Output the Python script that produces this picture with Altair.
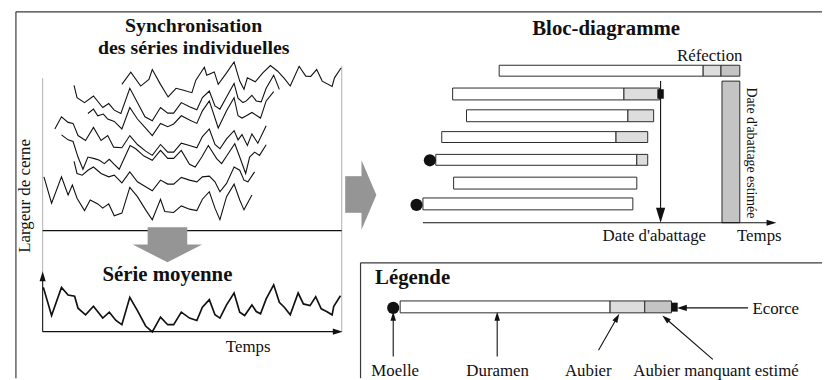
import math
import altair as alt
import pandas as pd

FONT = "Liberation Serif"

# ---------------- data (figure pixel units) ----------------
# individual ring-width series, synchronised
serie_a_x = [116, 125, 135, 143.3, 146.7, 155, 162.7, 170.7, 178.3, 186.7, 190.7, 199.3, 201.7, 209.3, 213.3, 221.7, 229.3, 235, 239.3, 242.7, 250.7, 258.3, 266, 273.3, 280, 286, 295, 301.7, 306.7, 312.7, 318.3, 328.3, 330.7, 337.3]
serie_a_y = [83.3, 71, 85, 78.3, 68.3, 83.3, 96, 87.3, 89.3, 91.7, 79, 66, 74, 70.7, 83.3, 71.7, 60.7, 80, 88.3, 76.7, 80.7, 71.7, 64.3, 70, 77.3, 85, 65, 75, 75.3, 68.3, 80, 85.3, 76.7, 66.7]

serie_b_x = [67.7, 70.7, 78.3, 87.3, 96.7, 102.7, 108.3, 115, 124, 131.7, 139.3, 146.7, 155, 162.3, 168.3, 176, 184.3, 191.7, 197.3, 204.3, 210, 215, 221.7, 229.3, 233.3, 238.3, 241.7, 247.3, 251.7, 256.7, 261.7, 269.3, 275]
serie_b_y = [84.3, 96.7, 101.7, 95, 106.7, 102.7, 109.3, 112.7, 87.3, 101.7, 116, 120, 106.7, 112.3, 112.3, 101.7, 106, 109, 96.7, 90, 105, 108.3, 96, 82.3, 97.3, 101.7, 100, 94.3, 100, 101, 87.3, 74, 88.3]

serie_c_x = [81.7, 87.3, 91.7, 97.3, 101.7, 108.3, 116, 124, 131.7, 139.3, 146.7, 155, 162.3, 168.3, 176, 184.3, 191.7, 197.3, 204.3, 213.3, 221.7, 229.3, 233.3, 237.3, 241.7, 247.3, 256, 261.7, 269.3]
serie_c_y = [112.7, 108.3, 115, 113.3, 118.3, 120.7, 128.3, 106.7, 118.3, 126.7, 135, 122.7, 126, 123.3, 115, 119.3, 122.7, 110, 100, 127.3, 110, 96.7, 115, 117.3, 115, 111.7, 117.3, 100, 90.7]

serie_d_x = [48.3, 55, 61.7, 66.7, 71.7, 79.3, 87.3, 95, 101.7, 107.7, 116, 124, 131.7, 140, 146.7, 155, 162.3, 168.3, 176, 184.3, 191.7, 197.3, 204.3, 210, 215, 221.7, 229.3, 233.3, 237.3, 242.7, 247.3, 253.3, 261.7]
serie_d_y = [128.3, 116, 121.7, 122.7, 135, 140, 126.7, 140, 135, 146.7, 147.3, 135, 144, 150.7, 155, 144, 151.7, 151.7, 142.7, 145, 147.3, 136, 128.3, 144, 148.3, 138.3, 130, 139.3, 134, 145, 133.3, 142.7, 125]

serie_e_x = [55, 61.7, 66.7, 71.7, 76.7, 81.7, 88.3, 93.3, 98.3, 103.3, 108.3, 113.3, 124.3, 130, 138.3, 146.7, 155, 162.3, 168.3, 176, 184.3, 190, 196.7, 203.3, 211.7, 216.7, 223.3, 230, 235, 241, 245, 250, 255, 261.7]
serie_e_y = [134.3, 139.3, 141, 156.7, 169, 156.7, 158.3, 160, 163.3, 159, 164, 169, 145, 148.3, 155.7, 160, 150, 158, 158, 150, 164, 166.7, 156.7, 145, 158.3, 163.3, 153.3, 143.3, 156.7, 173.3, 156.7, 151.7, 155, 144.3]

serie_f_x = [67.7, 70.7, 76, 81.7, 87.3, 95, 102.7, 108.3, 116, 124, 131.7, 140, 146.7, 155, 162.3, 168.3, 176, 184.3, 191.7, 197.3, 204.3, 210, 215, 221.7, 229.3, 235, 239.3, 243.3, 250]
serie_f_y = [161, 173.3, 175, 170, 166.7, 173.3, 176.7, 175, 182.7, 171.7, 181.7, 186.7, 190.7, 180, 184, 184, 177.3, 180, 181.7, 176.7, 176, 181.7, 191.7, 183.3, 166.7, 170, 180, 181.7, 171.7]

serie_g_x = [37.3, 45, 55, 61.7, 66, 70.7, 78.3, 84, 91.7, 96.7, 102.7, 108.3, 116, 124, 131.7, 140, 146.7, 155, 159.3, 168.3, 176, 184.3, 191.7, 197.3, 204.3, 210, 215, 221.7, 229.3, 235, 239.3, 247.3]
serie_g_y = [176.7, 203.3, 176.7, 195, 185, 198.3, 210.7, 200, 204, 208.3, 204, 216, 213.3, 187.3, 196.7, 210, 220, 199.3, 211.7, 212.7, 206, 209.3, 210.7, 199.3, 191.7, 208.3, 220, 196.7, 184, 200, 210, 195]

# mean series
moyenne_x = [36.7, 45, 55, 61.7, 68.3, 71.7, 79.3, 87.3, 96.7, 103.3, 110, 116, 124, 131.7, 140, 146.7, 155, 162.3, 168.3, 176, 184.3, 191.7, 197.3, 204.3, 210, 215, 221.7, 229.3, 235, 240, 247.3, 251.7, 256, 261.7, 269.3, 275, 280, 286, 294, 299.3, 306, 311.7, 317.3, 322.7, 328.3, 330, 336.7]
moyenne_y = [288.3, 316.7, 288.3, 296, 297.3, 309.3, 316, 307.3, 319.3, 313.3, 321.7, 326, 298.3, 311.7, 327.3, 333.3, 318.3, 326, 326, 313.3, 319.3, 321.7, 308.3, 300.7, 316, 319.3, 306, 294, 313.3, 316.7, 306, 312.7, 315, 300, 285.7, 303.3, 308.3, 316, 294, 305, 306.7, 297.7, 310, 312.7, 316, 307.3, 296.7]

# block diagram bars: (start, end, top, bottom)
duramen = [(497, 703, 64, 75), (450, 623, 87, 99), (464, 627, 109, 121), (439, 615, 131, 142),
           (433, 636, 154, 165), (451, 636, 177, 189), (420, 632, 198, 210), (397, 609, 302, 314)]
aubier = [(703, 721, 64, 75), (623, 659, 87, 99), (627, 653, 109, 121), (615, 647, 131, 142),
          (636, 647, 154, 165), (609, 644, 302, 314)]
aubier_estime = [(721, 740, 64, 75), (644, 671, 302, 314), (722, 740, 80, 223)]
ecorce = [(657, 663, 88.5, 97.5), (671, 677, 304, 312.5)]
moelle = [(427, 160), (413.5, 205), (390, 309)]

# frame lines
cadre = [(9, 10, 830, 10), (9, 10, 9, 380), (357, 263.5, 830, 263.5), (357, 263.5, 357, 380)]
cadre_clair = [(36, 77, 36, 273), (338, 65, 338, 333)]
separateur = [(36, 231, 338, 231)]

# arrows: (start x, start y, tip x, tip y, head length)
fleches = [
    (36, 333, 36, 272, 10),
    (36, 333, 339, 333, 10),
    (420, 223, 777, 223, 10),
    (660, 80, 660, 223, 15),
    (390, 358, 390, 313, 9),
    (495, 358, 495, 313, 9),
    (597.3, 351.7, 618.3, 315, 9),
    (712.7, 361, 661.7, 316.7, 9),
    (748.3, 309, 676.5, 309, 10),
]

titre_sync = [("Synchronisation\ndes séries individuelles", 188.5, 30.5)]
titres = [("Bloc-diagramme", 605, 33.3), ("Série moyenne", 162, 282)]
titre_legende = [("Légende", 371.7, 285)]
etiquettes = [("Temps", 243.5, 353.3), ("Date d'abattage", 653.7, 241.7), ("Temps", 759.7, 241.7),
              ("Moelle", 392, 378), ("Duramen", 495.5, 378), ("Aubier", 587, 378),
              ("Aubier manquant estimé", 716, 378)]
etiquette_droite = [("Réfection", 742.7, 60)]
etiquette_gauche = [("Ecorce", 752.7, 315)]

# ---------------- chart ----------------
XS = alt.Scale(domain=[1, 823], nice=False, zero=False)
YS = alt.Scale(domain=[8, 380], nice=False, zero=False, reverse=True)


def ex(f="x"):
    return alt.X(f"{f}:Q", scale=XS, axis=None)


def ey(f="y"):
    return alt.Y(f"{f}:Q", scale=YS, axis=None)


def segs(rows, color, width):
    df = pd.DataFrame(rows, columns=["x", "y", "x2", "y2"])
    return alt.Chart(df).mark_rule(color=color, strokeWidth=width).encode(
        x=ex(), y=ey(), x2=alt.X2("x2"), y2=alt.Y2("y2"))


def rects(rows, fill, stroke="#2a2a2a", sw=1.0):
    df = pd.DataFrame(rows, columns=["x", "x2", "y", "y2"])
    m = alt.Chart(df).mark_rect(fill=fill, stroke=stroke, strokeWidth=sw) if stroke else \
        alt.Chart(df).mark_rect(fill=fill, strokeWidth=0)
    return m.encode(x=ex(), x2=alt.X2("x2"), y=ey(), y2=alt.Y2("y2"))


def texts(rows, size, weight, align, angle=0, baseline="alphabetic", line_height=20):
    df = pd.DataFrame(rows, columns=["t", "x", "y"])
    return alt.Chart(df).mark_text(font=FONT, fontSize=size, fontWeight=weight, align=align,
                                   baseline=baseline, angle=angle, color="#111111",
                                   lineBreak="\n", lineHeight=line_height).encode(
        x=ex(), y=ey(), text="t:N")


layers = []
layers.append(segs(cadre, "#3a3a3a", 1.2))
layers.append(segs(cadre_clair, "#b0b0b0", 1))
layers.append(segs(separateur, "#111111", 1.2))

rows = []
for name, xs, ys in [("A", serie_a_x, serie_a_y), ("B", serie_b_x, serie_b_y), ("C", serie_c_x, serie_c_y),
                     ("D", serie_d_x, serie_d_y), ("E", serie_e_x, serie_e_y), ("F", serie_f_x, serie_f_y),
                     ("G", serie_g_x, serie_g_y)]:
    for x, y in zip(xs, ys):
        rows.append({"s": name, "x": x, "y": y})
df_series = pd.DataFrame(rows)
layers.append(alt.Chart(df_series).mark_line(color="#111111", strokeWidth=1.1).encode(
    x=ex(), y=ey(), detail="s:N"))
layers.append(alt.Chart(pd.DataFrame({"x": moyenne_x, "y": moyenne_y})).mark_line(
    color="#111111", strokeWidth=1.7).encode(x=ex(), y=ey()))

# gray process arrows
GRIS = "#959595"
layers.append(rects([(142, 182, 227.5, 245.5)], GRIS, stroke=None))
layers.append(alt.Chart(pd.DataFrame({"y": [245, 263], "x": [127, 162], "x2": [197, 162]})).mark_area(
    color=GRIS, orient="horizontal", opacity=1).encode(y=ey(), x=ex(), x2=alt.X2("x2")))
layers.append(rects([(341.5, 358.5, 176, 213)], GRIS, stroke=None))
layers.append(alt.Chart(pd.DataFrame({"x": [358, 373], "y": [160, 195], "y2": [230, 195]})).mark_area(
    color=GRIS, orient="vertical", opacity=1).encode(x=ex(), y=ey(), y2=alt.Y2("y2")))

# bars
layers.append(rects(duramen, "#ffffff"))
layers.append(rects(aubier, "#dddddd"))
layers.append(rects(aubier_estime, "#c4c4c4"))
layers.append(rects(ecorce, "#111111", stroke="#111111", sw=0.5))
layers.append(alt.Chart(pd.DataFrame(moelle, columns=["x", "y"])).mark_point(
    shape="circle", filled=True, size=150, color="#111111", opacity=1).encode(x=ex(), y=ey()))

# arrows: shafts and heads
shafts = []
heads = []
for sx, sy, tx, ty, L in fleches:
    dx, dy = tx - sx, ty - sy
    n = math.hypot(dx, dy)
    ux, uy = dx / n, dy / n
    shafts.append((sx, sy, tx - ux * L * 0.6, ty - uy * L * 0.6))
    ang = math.degrees(math.atan2(ux, -uy)) % 360
    heads.append({"x": tx - ux * L / 2, "y": ty - uy * L / 2, "a": ang, "s": L * L})
layers.append(segs(shafts, "#111111", 1.1))
layers.append(alt.Chart(pd.DataFrame(heads)).mark_point(
    shape="M0,-1L0.62,1L-0.62,1Z", filled=True, color="#111111", opacity=1, strokeWidth=0).encode(
    x=ex(), y=ey(), angle=alt.Angle("a:Q", scale=None), size=alt.Size("s:Q", scale=None)))

# texts
layers.append(texts(titre_sync, 20, "bold", "center", line_height=22.5))
layers.append(texts(titres, 21, "bold", "center"))
layers.append(texts(titre_legende, 21, "bold", "left"))
layers.append(texts(etiquettes, 17, "normal", "center"))
layers.append(texts(etiquette_droite, 17, "normal", "right"))
layers.append(texts(etiquette_gauche, 17, "normal", "left"))
layers.append(texts([("Largeur de cerne", 18.5, 196)], 17, "normal", "center", angle=270, baseline="middle"))
layers.append(texts([("Date d'abattage estimée", 751, 152.5)], 14, "normal", "center", angle=90, baseline="middle"))

chart = alt.layer(*layers).properties(
    width=822, height=372, padding=0, autosize=alt.AutoSizeParams(type="none")
).configure_view(stroke=None)

chart.save("out.html", embed_options={"renderer": "svg", "actions": False})
